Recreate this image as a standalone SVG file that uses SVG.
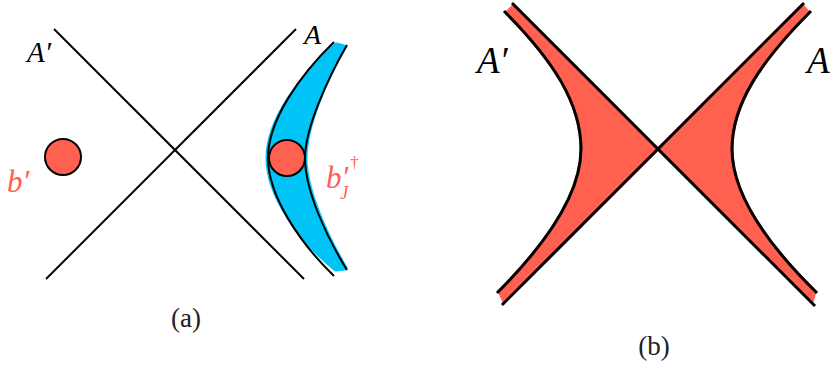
<svg xmlns="http://www.w3.org/2000/svg" width="832" height="367" viewBox="0 0 832 367">
<style>
.ln{fill:none;stroke:#000;stroke-width:2;stroke-linecap:butt}
.lnb{fill:none;stroke:#000;stroke-width:3;stroke-linecap:butt}
.red{fill:#FF604F;stroke:#FF604F;stroke-width:3;stroke-linejoin:round}
.blue{fill:#00C4F5;stroke:#00C4F5;stroke-width:5;stroke-linejoin:round}
.dot{fill:#FF604F;stroke:#000;stroke-width:2}
.it{font-family:"Liberation Serif","DejaVu Serif",serif;font-style:italic}
.rm{font-family:"Liberation Serif",serif;fill:#222;text-anchor:middle;font-size:27px}
</style>
<g id="panel-a">
  <g id="band-A">
    <path class="blue" d="M336,45 C300,78 268,120 268,158 C268,196 300,240 336,269 L345,268 C326,236 305,190 305,158 C305,128 324,82 344,47 Z"/>
    <path class="ln" d="M334,42 C300,75 268,120 268,158 C268,196 300,243 334,276"/>
    <path class="ln" d="M347,45 C328,78 305,128 305,158 C305,190 326,236 347,270"/>
  </g>
  <g id="connectors-a">
    <line class="ln" x1="54" y1="29" x2="304" y2="279"/>
    <line class="ln" x1="296" y1="29" x2="46" y2="279"/>
  </g>
  <g id="b-prime"><circle class="dot" cx="63" cy="157" r="18"/></g>
  <g id="b-J"><circle class="dot" cx="287" cy="158" r="18"/></g>
  <text class="it" x="27" y="62" font-size="29" fill="#000">A′</text>
  <text class="it" x="304" y="44" font-size="28" fill="#000">A</text>
  <text class="it" x="7" y="192" font-size="31" fill="#FF604F">b′</text>
  <text class="it" x="326" y="188" font-size="31" fill="#FF604F">b′<tspan font-size="18" dx="-8" dy="11">J</tspan><tspan font-size="17" font-style="normal" dx="2" dy="-31">†</tspan></text>
  <text class="rm" x="186" y="327">(a)</text>
</g>
<g id="panel-b">
  <g id="region-left">
    <path class="red" d="M506,13 C554,61 581,104 581,149 C581,194 547,243 499,291 L504,302 L658,149 L514,5 Z"/>
    <path class="lnb" d="M504,11 C554,61 581,104 581,149 C581,194 547,243 497,293"/>
  </g>
  <g id="region-right">
    <path class="red" d="M809,13 C761,61 732,104 732,149 C732,194 766,243 815,291 L812,302 L658,149 L802,5 Z"/>
    <path class="lnb" d="M811,11 C761,61 732,104 732,149 C732,194 766,243 817,293"/>
  </g>
  <g id="connectors-b">
    <line class="lnb" x1="512" y1="3" x2="815" y2="306"/>
    <line class="lnb" x1="804" y1="3" x2="502" y2="305"/>
  </g>
  <text class="it" x="477" y="73" font-size="37" fill="#000">A′</text>
  <text class="it" x="807" y="73" font-size="37" fill="#000">A</text>
  <text class="rm" x="654" y="355">(b)</text>
</g>
</svg>
